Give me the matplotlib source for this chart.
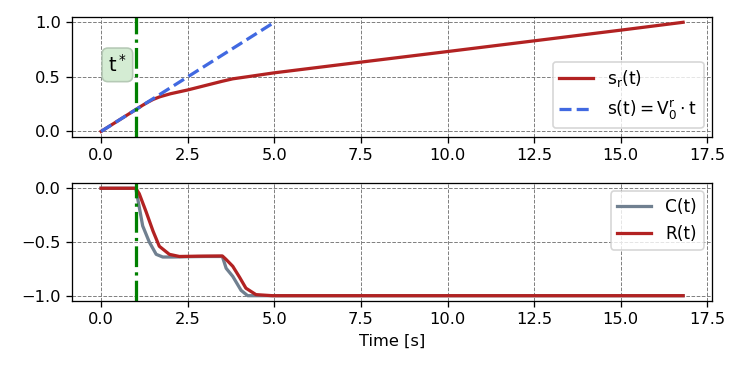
import numpy as np
import matplotlib.pyplot as plt

plt.rcParams['mathtext.default'] = 'regular'

# position s_r(t)
t_sr = [0.0, 0.5, 1.0, 1.2, 1.35, 1.5, 1.7, 2.0, 2.5, 3.0, 3.5, 3.8, 4.2, 5.0, 7.5, 10.0, 12.5, 15.0, 16.8]
sr = [0.0, 0.1, 0.2, 0.24, 0.268, 0.293, 0.318, 0.345, 0.38, 0.42, 0.46, 0.482, 0.5, 0.537, 0.635, 0.732, 0.83, 0.928, 1.0]

# reference s(t) = V0 * t
t_ref = [0.0, 5.0]
s_ref = [0.0, 1.0]

# C(t) and R(t)
t_c = [0.0, 1.0, 1.03, 1.2, 1.39, 1.59, 1.78, 2.07, 2.5, 3.0, 3.5, 3.61, 3.8, 4.04, 4.23, 5.0, 10.0, 16.8]
c = [0.0, 0.0, -0.05, -0.35, -0.5, -0.615, -0.64, -0.64, -0.637, -0.635, -0.635, -0.745, -0.82, -0.95, -1.0, -1.0, -1.0, -1.0]
t_r = [0.0, 1.0, 1.1, 1.3, 1.5, 1.68, 1.97, 2.26, 2.8, 3.5, 3.6, 3.8, 4.0, 4.18, 4.47, 4.95, 10.0, 16.8]
r = [0.0, 0.0, -0.05, -0.22, -0.4, -0.54, -0.615, -0.635, -0.632, -0.63, -0.66, -0.726, -0.83, -0.93, -0.99, -1.0, -1.0, -1.0]

t_star = 1.0

DPI = 116.8
fig = plt.figure(figsize=(747 / DPI, 374 / DPI), dpi=DPI)
ax1 = fig.add_axes([0.0964, 0.634, 0.857, 0.321])
ax2 = fig.add_axes([0.0964, 0.195, 0.857, 0.316])

ax1.plot(t_sr, sr, color='firebrick', lw=2, label='$s_r(t)$')
ax1.plot(t_ref, s_ref, color='royalblue', lw=2, ls='--', label=r'$s(t) = V_0^r \cdot t$')
ax1.axvline(t_star, color='green', lw=2, ls='-.')
ax1.text(0.47, 0.61, '$t^*$', fontsize=12, ha='center', va='center',
         bbox=dict(boxstyle='round', facecolor='#d4ecd3', edgecolor='#b5c9b5'))
ax1.legend(loc='lower right', fontsize=10.5)
ax1.set_yticks([0.0, 0.5, 1.0])

ax2.plot(t_c, c, color='slategray', lw=2, label='C(t)')
ax2.plot(t_r, r, color='firebrick', lw=2, label='R(t)')
ax2.axvline(t_star, color='green', lw=2, ls='-.')
ax2.legend(loc='upper right', fontsize=10.5)
ax2.set_xlabel('Time [s]')
ax2.set_yticks([-1.0, -0.5, 0.0])

for ax in (ax1, ax2):
    ax.set_xlim(-0.84, 17.64)
    ax.set_xticks(np.arange(0, 17.6, 2.5))
    ax.grid(True, ls='--', color='gray', lw=0.6)

fig.savefig('out.png', dpi=DPI)
